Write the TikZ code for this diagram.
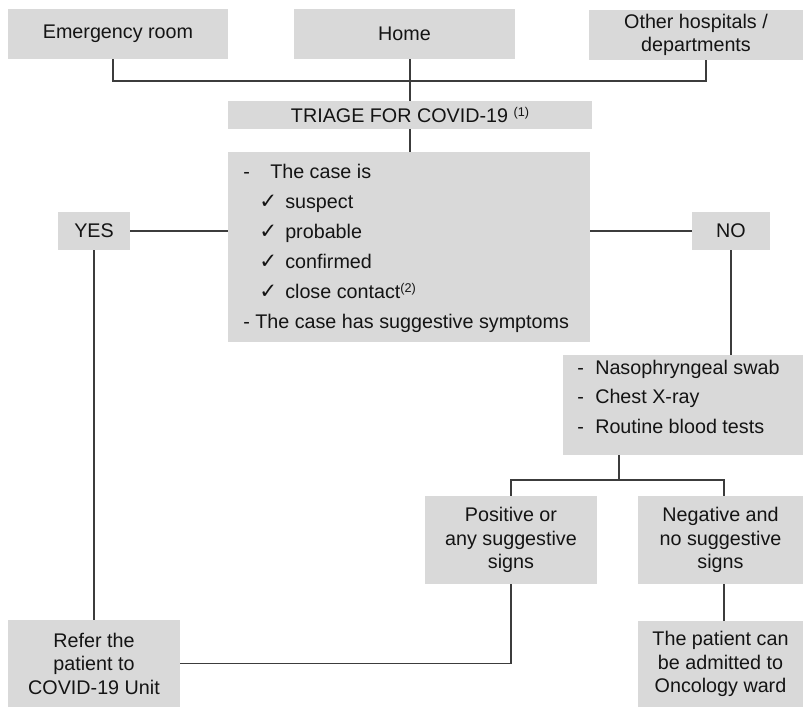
\documentclass[tikz,border=0pt]{standalone}
\usepackage{fontspec}
\setmainfont{Liberation Sans}
\newfontfamily\symfont{DejaVu Sans}
\definecolor{boxgray}{RGB}{217,217,217}
\definecolor{linegray}{RGB}{60,60,60}
\definecolor{txtcol}{RGB}{20,20,20}
\newcommand{\bx}[6]{\node[box, minimum width={(#4-#2)*0.75pt}, minimum height={(#5-#3)*0.75pt}] (#1) at ({(#2+#4)/2},{(#3+#5)/2}) {#6};}
\newcommand{\supnum}[1]{\raisebox{0.55ex}{\fontsize{9.5}{10}\selectfont(#1)}}
\newcommand{\chk}{{\symfont\fontsize{16}{16}\selectfont ✓}}
\begin{document}
\begin{tikzpicture}[x=0.75pt,y=-0.75pt,
  box/.style={fill=boxgray, draw=none, inner sep=0pt, align=center, text=txtcol,
    font=\fontsize{14.8}{17.6}\selectfont},
  txt/.style={inner sep=0pt, text=txtcol, font=\fontsize{14.8}{17.6}\selectfont},
  ln/.style={draw=linegray, line width=0.8pt}]
\useasboundingbox (0,0) rectangle (803,707);
% boxes
\bx{er}{8}{9}{228}{59}{Emergency room}
\bx{home}{294}{9}{515}{59}{Home}
\bx{oh}{589}{10}{803}{60}{\fontsize{14.8}{15.5}\selectfont Other hospitals /\\ departments}
\bx{tri}{228}{101}{592}{129}{TRIAGE FOR COVID-19 \supnum{1}}
\bx{main}{228}{152}{590}{342}{}
\bx{yes}{58}{212}{130}{250}{YES}
\bx{no}{692}{212}{770}{250}{NO}
\bx{naso}{563}{355}{803}{455}{}
\bx{pos}{425}{496}{597}{584}{Positive or\\ any suggestive\\ signs}
\bx{neg}{638}{496}{803}{584}{Negative and\\ no suggestive\\ signs}
\bx{onc}{638}{621}{803}{707}{The patient can\\ be admitted to\\ Oncology ward}
\bx{refer}{8}{620}{180}{707}{Refer the\\ patient to\\ COVID-19 Unit}
% main box text
\node[txt, anchor=base west] (m0) at (243,178) {-};
\node[txt, anchor=base west] (m1) at (270,178) {The case is};
\node[txt, anchor=base west] (c1) at (259,208) {\chk};
\node[txt, anchor=base west] (m2) at (285,208) {suspect};
\node[txt, anchor=base west] (c2) at (259,238) {\chk};
\node[txt, anchor=base west] (m3) at (285,238) {probable};
\node[txt, anchor=base west] (c3) at (259,268) {\chk};
\node[txt, anchor=base west] (m4) at (285,268) {confirmed};
\node[txt, anchor=base west] (c4) at (259,298) {\chk};
\node[txt, anchor=base west] (m5) at (285,298) {close contact\supnum{2}};
\node[txt, anchor=base west] (m6) at (243,328) {- The case has suggestive symptoms};
% naso box text
\node[txt, anchor=base west] (n0a) at (577,374) {-};
\node[txt, anchor=base west] (n0) at (595,374) {Nasophryngeal swab};
\node[txt, anchor=base west] (n1a) at (577,403) {-};
\node[txt, anchor=base west] (n1) at (595,403) {Chest X-ray};
\node[txt, anchor=base west] (n2a) at (577,433) {-};
\node[txt, anchor=base west] (n2) at (595,433) {Routine blood tests};
% connectors
\coordinate (j1) at (113,81);
\coordinate (j2) at (706,81);
\coordinate (t1) at (619,480);
\coordinate (t2) at (724,480);
\draw[ln] (j1 |- er.south) -- (j1) -- (j2) -- (j2 |- oh.south);
\draw[ln] (tri.north |- home.south) -- (tri.north);
\draw[ln] (tri.south) -- (tri.south |- main.north);
\draw[ln] (yes.east) -- (yes.east -| main.west);
\draw[ln] (yes.south) -- (yes.south |- refer.north);
\draw[ln] (no.west -| main.east) -- (no.west);
\draw[ln] (no.south) -- (no.south |- naso.north);
\draw[ln] (t1 |- naso.south) -- (t1);
\draw[ln] (pos.north) |- (t1) -- (t2) -- (t2 |- neg.north);
\draw[ln] (t2 |- neg.south) -- (t2 |- onc.north);
\draw[ln] (pos.south) |- (refer.east);
\end{tikzpicture}
\end{document}
